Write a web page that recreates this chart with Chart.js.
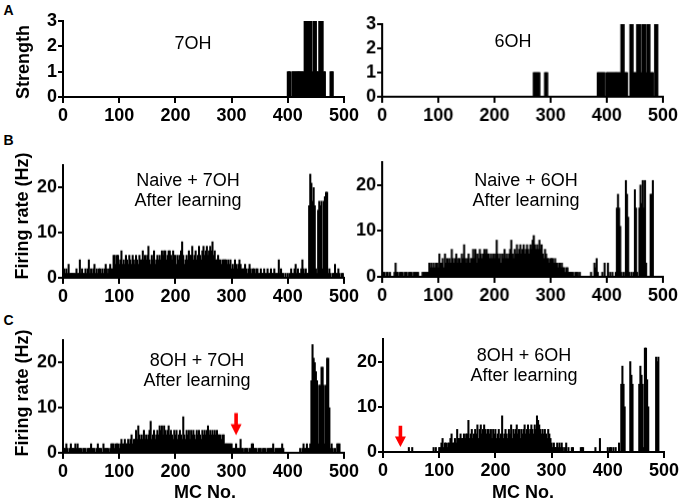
<!DOCTYPE html>
<html><head><meta charset="utf-8">
<script src="https://cdn.jsdelivr.net/npm/chart.js@4.4.1/dist/chart.umd.min.js"></script>
<style>
html,body{margin:0;padding:0;background:#fff;width:680px;height:503px;overflow:hidden;font-family:'Liberation Sans',Arial,sans-serif;}
.box{position:absolute;}
.box canvas{position:absolute;left:0;top:0;}
.t{position:absolute;white-space:nowrap;color:#000;transform:translate(-50%,-50%);text-align:center;}
.ann{font-size:18px;line-height:20px;}
.ytitle{font-size:18px;font-weight:bold;transform:translate(-50%,-50%) rotate(-90deg);}
.xtitle{font-size:18px;font-weight:bold;}
.plabel{font-size:14px;font-weight:bold;}
</style></head><body>
<div id="root"></div>
<script>
// ---------- DATA ----------
const xTicks = [0, 100, 200, 300, 400, 500];
const strengthTicks = [0, 1, 2, 3];
const rateTicks = [0, 10, 20];

// Panel A: odor input strength (sparse, MC number -> strength)
const strength7OH_mc = [400,402,404,408,410,412,414,416,418,420,422,424,426,428,430,432,434,436,438,440,442,444,446,448,450,452,454,456,458,460,462,464,466,476,478,480];
const strength7OH    = [1,1,1,1,1,1,1,1,1,1,1,1,1,1,3,3,3,3,3,3,3,1,3,3,3,1,1,3,3,3,3,1,1,1,1,1];

const strength6OH_mc = [270,272,274,276,278,280,290,292,294,384,386,388,390,392,394,396,400,402,404,406,408,410,412,414,416,418,420,422,424,426,428,430,432,434,436,442,444,446,448,450,452,454,456,458,460,462,464,466,468,470,472,474,476,478,480,482,486,488,490];
const strength6OH    = [1,1,1,1,1,1,1,1,1,1,1,1,1,1,1,1,1,1,1,1,1,1,1,1,1,1,1,1,1,3,3,3,1,1,1,3,3,3,1,1,1,3,3,3,3,1,3,3,3,1,3,3,3,1,1,1,3,3,3];

// MC bins (every 2nd mitral cell)
const mcFirst = 0, mcLast = 498, mcStep = 2;
const mcBins = [];
for (let m = mcFirst; m <= mcLast; m += mcStep) mcBins.push(m);

// Panel B: Naive + 7OH, after learning (Hz)
const rateNaive7OH = [
2,2,1,2,1,3,1,1,1,1,1,1,2,1,1,4,1,2,1,1,2,1,2,4,1,
2,1,2,3,1,2,1,2,2,1,2,1,2,3,2,1,2,3,2,2,5,5,3,5,5,
3,4,6,3,4,3,5,4,3,5,4,3,5,4,3,5,4,3,5,4,4,6,4,5,4,
5,7,4,3,5,4,6,3,4,5,4,5,4,6,5,6,6,4,5,6,6,5,4,6,5,
5,3,5,4,5,6,8,5,3,4,5,4,6,5,5,7,4,5,6,4,5,7,5,4,6,
7,5,6,7,5,6,7,6,8,5,6,4,4,5,4,4,3,4,4,4,4,3,4,3,4,
2,3,2,4,3,2,3,4,3,2,2,2,3,2,1,2,3,2,1,2,2,1,2,2,1,
1,2,1,1,2,1,1,2,1,1,2,1,1,2,1,1,1,4,1,2,1,1,0,1,0,
1,0,1,2,1,1,2,3,1,2,1,1,2,4,2,1,2,1,1,16,23,21,17,20,16,
2,1,15,17,16,17,2,17,18,19,19,1,2,1,0,1,1,3,1,1,2,1,0,1,1];

// Panel B: Naive + 6OH, after learning (Hz)
const rateNaive6OH = [
0,1,1,0,1,1,0,1,0,0,0,1,3,1,1,0,1,1,1,0,1,1,1,0,1,
1,1,0,1,1,1,1,1,0,0,0,1,1,1,1,1,1,3,2,3,2,3,2,3,3,
2,5,3,3,4,2,5,3,4,3,4,3,6,4,3,4,5,3,4,4,3,5,4,7,4,
3,4,5,3,4,4,6,4,6,3,5,4,6,5,4,5,6,5,6,5,5,4,5,4,5,
4,5,8,5,4,5,3,5,4,6,4,5,4,5,6,8,5,4,6,5,7,5,6,7,5,
6,7,5,6,7,6,5,7,6,8,9,7,6,7,6,8,6,7,5,4,6,5,4,4,3,
4,4,4,3,4,3,3,2,3,2,3,2,2,1,2,2,1,1,1,1,1,0,1,1,1,
0,1,0,0,0,0,0,0,0,0,0,1,0,0,3,2,4,1,0,0,0,1,0,3,0,
0,3,0,1,0,1,0,0,1,15,18,15,11,1,0,1,0,21,18,13,1,0,1,0,1,
19,15,1,0,15,20,16,21,15,21,3,0,0,0,18,18,21,0,0,0,0,0,0,0,0];

// Panel C: 8OH + 7OH, after learning (Hz)
const rate8OH7OH = [
2,1,1,2,1,0,1,2,1,1,1,2,1,2,1,1,1,0,1,1,1,0,1,1,1,
2,1,1,1,0,1,2,1,1,1,0,2,1,1,1,1,0,1,2,2,2,1,2,2,2,
1,2,3,2,2,3,2,2,3,2,3,4,2,3,3,5,3,6,4,3,4,3,5,3,4,
3,4,5,7,3,4,5,3,4,5,4,6,5,6,4,6,5,4,5,6,4,5,4,3,5,
4,5,3,4,5,4,3,8,4,3,5,4,5,3,5,4,5,4,3,5,4,5,4,3,5,
4,5,4,5,6,4,5,4,5,4,5,4,5,4,4,4,3,4,4,2,2,2,2,2,2,
2,1,1,1,2,1,1,1,3,1,1,0,1,1,1,0,1,1,2,2,1,1,1,0,1,
1,1,0,1,1,1,0,1,1,1,1,1,2,0,1,1,1,1,1,1,2,1,0,0,0,
0,0,0,0,0,0,0,0,0,0,0,1,0,1,2,1,1,2,1,1,2,16,24,21,20,
18,16,2,15,15,19,19,15,2,15,21,21,10,1,2,1,0,1,0,2,2,2,0,0,0];

// Panel C: 8OH + 6OH, after learning (Hz)
const rate8OH6OH = [
0,0,0,0,0,0,0,0,0,0,0,0,0,0,0,0,0,0,0,0,0,0,0,1,0,
0,1,0,0,0,0,0,0,0,0,0,0,0,0,0,0,0,0,0,0,1,0,1,0,0,
1,1,2,3,1,2,2,1,2,2,3,4,2,2,3,2,5,3,3,4,3,3,4,3,4,
4,7,3,4,5,3,4,5,4,6,3,5,6,4,5,6,5,4,5,5,4,5,3,5,4,
5,3,4,5,3,4,8,3,4,5,4,3,5,4,6,3,5,4,5,6,4,5,3,5,4,
5,6,4,5,6,4,5,6,5,4,6,5,8,7,6,5,4,5,4,5,4,3,5,4,3,
2,1,2,1,1,2,1,2,1,2,1,0,1,2,0,1,0,0,1,1,0,0,0,0,0,
0,1,1,1,0,0,0,0,0,0,0,0,0,0,1,0,0,0,3,0,0,0,0,0,0,
1,0,1,1,0,1,0,1,0,0,2,0,15,19,15,10,0,0,0,0,20,17,15,0,0,
0,0,0,15,19,17,15,1,23,23,16,10,0,0,0,0,0,0,21,20,21,0,0,0,0];

// Red arrows (MC number, arrow top value, arrow tip value)
const arrow8OH7OH = {mc: 308, top: 8.8, tip: 3.9};
const arrow8OH6OH = {mc: 31, top: 5.8, tip: 1.1};

// ---------- DRAWING ----------
Chart.defaults.font.family = "'Liberation Sans', Arial, sans-serif";
Chart.defaults.color = '#000';

const arrowPlugin = {
  id: 'redArrow',
  afterDatasetsDraw(chart, args, opts) {
    if (!opts || opts.mc == null) return;
    const x = chart.scales.x.getPixelForValue(opts.mc);
    const yTop = chart.scales.y.getPixelForValue(opts.top);
    const yTip = chart.scales.y.getPixelForValue(opts.tip);
    const head = (yTip - yTop) * 0.5, sw = 1.8, hw = 5.5;
    const ctx = chart.ctx;
    ctx.save();
    ctx.fillStyle = '#ff0000';
    ctx.beginPath();
    ctx.moveTo(x - sw, yTop); ctx.lineTo(x + sw, yTop);
    ctx.lineTo(x + sw, yTip - head); ctx.lineTo(x + hw, yTip - head);
    ctx.lineTo(x, yTip); ctx.lineTo(x - hw, yTip - head);
    ctx.lineTo(x - sw, yTip - head); ctx.closePath(); ctx.fill();
    ctx.restore();
  }
};

const YW = 44, XH = 30, PT = 14, PR = 24;
const root = document.getElementById('root');

function panel(area, xs, ys, yMax, yTicks, arrow) {
  const w = area.R - area.L + YW + PR;
  const h = area.B - area.T + PT + XH;
  const box = document.createElement('div');
  box.className = 'box';
  box.style.left = (area.L - YW) + 'px';
  box.style.top = (area.T - PT) + 'px';
  box.style.width = w + 'px';
  box.style.height = h + 'px';
  const cv = document.createElement('canvas');
  box.appendChild(cv);
  root.appendChild(box);
  cv.style.width = w + 'px'; cv.style.height = h + 'px';
  cv.width = w; cv.height = h;
  const tickFont = {size: 18, weight: 'bold'};
  new Chart(cv, {
    type: 'bar',
    data: {datasets: [{
      data: xs.map((x, i) => ({x: x, y: ys[i]})),
      backgroundColor: '#000', borderWidth: 0,
      barThickness: 1.4, barPercentage: 1, categoryPercentage: 1
    }]},
    options: {
      responsive: false, animation: false, devicePixelRatio: 1,
      layout: {padding: {top: PT, right: PR, left: 0, bottom: 0}},
      plugins: {legend: {display: false}, tooltip: {enabled: false},
                redArrow: arrow || {}},
      scales: {
        x: {
          type: 'linear', min: xTicks[0], max: xTicks[xTicks.length - 1], offset: false,
          afterBuildTicks: s => { s.ticks = xTicks.map(v => ({value: v})); },
          ticks: {font: tickFont, color: '#000', padding: 2, maxRotation: 0, autoSkip: false},
          grid: {display: true, offset: false, drawOnChartArea: false, drawTicks: true, tickLength: 6, color: '#000', lineWidth: 2},
          border: {display: true, color: '#000', width: 2},
          afterFit: s => { s.height = XH; }
        },
        y: {
          min: 0, max: yMax,
          afterBuildTicks: s => { s.ticks = yTicks.map(v => ({value: v})); },
          ticks: {font: tickFont, color: '#000', padding: 1, autoSkip: false},
          grid: {display: true, offset: false, drawOnChartArea: false, drawTicks: true, tickLength: 5, color: '#000', lineWidth: 2},
          border: {display: true, color: '#000', width: 2},
          afterFit: s => { s.width = YW; }
        }
      }
    },
    plugins: [arrowPlugin]
  });
}

panel({L: 62.5, T: 20.7, R: 344, B: 96.7}, strength7OH_mc, strength7OH, 3, strengthTicks);
panel({L: 382.3, T: 24.3, R: 663.3, B: 97}, strength6OH_mc, strength6OH, 3, strengthTicks);
panel({L: 62.7, T: 165, R: 344, B: 277.5}, mcBins, rateNaive7OH, 25, rateTicks);
panel({L: 382.3, T: 162.3, R: 663.3, B: 276.7}, mcBins, rateNaive6OH, 25, rateTicks);
panel({L: 63.3, T: 340, R: 344.5, B: 452.7}, mcBins, rate8OH7OH, 25, rateTicks, arrow8OH7OH);
panel({L: 382.7, T: 339.3, R: 663.7, B: 452.3}, mcBins, rate8OH6OH, 25, rateTicks, arrow8OH6OH);

function text(cls, html, cx, cy) {
  const d = document.createElement('div');
  d.className = 't ' + cls;
  d.innerHTML = html;
  d.style.left = cx + 'px'; d.style.top = cy + 'px';
  root.appendChild(d);
}
text('plabel', 'A', 8.5, 10);
text('plabel', 'B', 8.5, 140);
text('plabel', 'C', 8.5, 320);
text('ytitle', 'Strength', 22.5, 62);
text('ytitle', 'Firing rate (Hz)', 21.5, 216);
text('ytitle', 'Firing rate (Hz)', 21.5, 393);
text('ann', '7OH', 193, 43);
text('ann', '6OH', 513, 41);
text('ann', 'Naive + 7OH<br>After learning', 188, 190);
text('ann', 'Naive + 6OH<br>After learning', 526, 190);
text('ann', '8OH + 7OH<br>After learning', 197, 370);
text('ann', '8OH + 6OH<br>After learning', 524, 365);
text('xtitle', 'MC No.', 205, 492);
text('xtitle', 'MC No.', 523, 492);
</script>
</body></html>
